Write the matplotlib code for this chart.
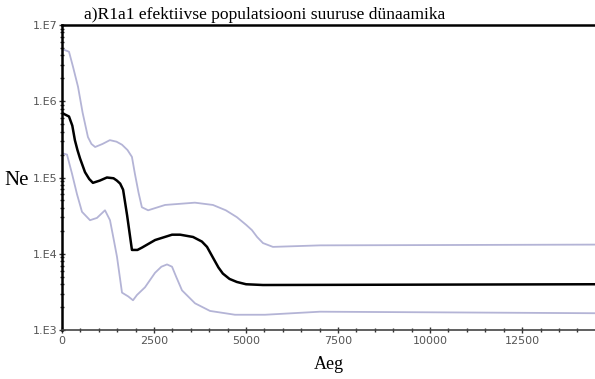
import matplotlib.pyplot as plt
import numpy as np
from matplotlib.ticker import LogLocator, FixedLocator, FuncFormatter

# years before present and log10(Ne)
t_median = [0, 190, 280, 350, 420, 490, 625, 740, 840, 1030, 1220, 1400, 1490, 1580, 1660,
            1770, 1900, 2050, 2170, 2530, 2990, 3210, 3560, 3800, 3940, 4100, 4250,
            4370, 4550, 4750, 5000, 5460, 14480]
ne_median = [5.846, 5.80, 5.68, 5.49, 5.36, 5.25, 5.07, 4.98, 4.93, 4.96, 5.00, 4.99, 4.96,
             4.92, 4.84, 4.5, 4.05, 4.05, 4.08, 4.18, 4.25, 4.25, 4.22, 4.16, 4.09, 3.95,
             3.82, 3.74, 3.67, 3.63, 3.60, 3.59, 3.60]

t_upper = [0, 190, 300, 435, 560, 705, 800, 900, 1100, 1300, 1480, 1630, 1780, 1900, 1980,
           2080, 2170, 2340, 2800, 3610, 4100, 4450, 4750, 5000, 5160, 5300, 5460, 5730,
           7010, 14480]
ne_upper = [6.685, 6.65, 6.45, 6.19, 5.85, 5.53, 5.44, 5.40, 5.44, 5.49, 5.47, 5.43, 5.36,
            5.27, 5.05, 4.80, 4.61, 4.57, 4.64, 4.67, 4.64, 4.57, 4.48, 4.38, 4.31, 4.22,
            4.14, 4.09, 4.11, 4.12]

t_lower = [0, 136, 272, 408, 543, 761, 950, 1168, 1304, 1400, 1494, 1630, 1800, 1929, 2038,
           2255, 2527, 2700, 2853, 2989, 3100, 3260, 3614, 4021, 4700, 5516, 7010, 14480]
ne_lower = [5.32, 5.30, 5.05, 4.78, 4.55, 4.44, 4.47, 4.57, 4.44, 4.20, 3.96, 3.49, 3.44,
            3.39, 3.46, 3.56, 3.75, 3.83, 3.86, 3.83, 3.70, 3.52, 3.35, 3.25, 3.20, 3.20,
            3.24, 3.22]

x_ticks = [0, 2500, 5000, 7500, 10000, 12500]

fig = plt.figure(figsize=(5.95, 3.79), dpi=100)
ax = fig.add_axes([0.1042, 0.1293, 0.8958, 0.8047])

band = '#b4b4d6'
ax.plot(t_upper, 10 ** np.array(ne_upper), color=band, lw=1.3)
ax.plot(t_lower, 10 ** np.array(ne_lower), color=band, lw=1.3)
ax.plot(t_median, 10 ** np.array(ne_median), color='black', lw=1.8)

ax.set_yscale('log')
ax.set_ylim(1e3, 1e7)
ax.set_xlim(0, 14480)

ax.set_xticks(x_ticks)
ax.xaxis.set_minor_locator(FixedLocator(np.arange(0, 14500, 500)))
ax.yaxis.set_major_locator(LogLocator(base=10, numticks=10))
ax.yaxis.set_minor_locator(LogLocator(base=10, subs=np.arange(2, 10), numticks=20))
ax.yaxis.set_major_formatter(FuncFormatter(lambda v, p: '1.E%d' % round(np.log10(v))))

ax.tick_params(axis='both', which='major', direction='inout', length=5, width=1,
               labelsize=8, labelcolor='#555555', color='#333333')
ax.tick_params(axis='both', which='minor', direction='inout', length=3, width=1,
               color='#333333')
ax.tick_params(axis='y', pad=1)
ax.tick_params(axis='x', pad=2)

ax.spines['right'].set_visible(False)
ax.spines['left'].set_linewidth(1.8)
ax.spines['top'].set_linewidth(1.8)
ax.spines['bottom'].set_linewidth(1.2)
ax.spines['bottom'].set_color('#444444')

fig.text(0.142, 0.949, 'a)R1a1 efektiivse populatsiooni suuruse dünaamika',
         family='Liberation Serif', fontsize=12.6, ha='left', va='baseline')
fig.text(0.008, 0.525, 'Ne', family='Liberation Serif', fontsize=15, ha='left', va='center')
ax.set_xlabel('Aeg', family='Liberation Serif', fontsize=13, labelpad=7)

fig.savefig('out.png', dpi=100)
